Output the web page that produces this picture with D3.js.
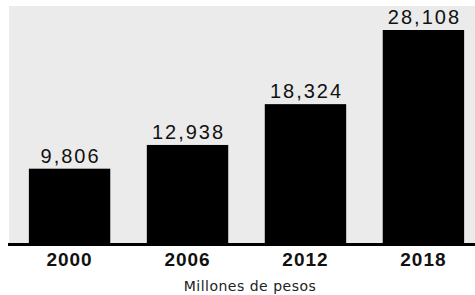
<!DOCTYPE html>
<html>
<head>
<meta charset="utf-8">
<script src="https://cdn.jsdelivr.net/npm/d3@7"></script>
<style>
  body { margin: 0; background: #fff; }
  svg { display: block; }
</style>
</head>
<body>
<svg id="chart"></svg>
<script>
// data
var years = ["2000", "2006", "2012", "2018"];
var values = [9806, 12938, 18324, 28108];
var unitLabel = "Millones de pesos";

var width = 475,
    height = 295,
    baseY = 243,
    topY = 30;

var svg = d3.select("#chart")
    .attr("width", width)
    .attr("height", height);

var x = d3.scaleBand()
    .domain(years)
    .range([10, 483])
    .paddingInner(0.31)
    .paddingOuter(0.16);

var y = d3.scaleLinear()
    .domain([0, d3.max(values)])
    .range([baseY, topY]);

var formatComma = d3.format(",");

// grey panel
svg.append("rect")
    .attr("x", 9)
    .attr("y", 6)
    .attr("width", width - 9)
    .attr("height", baseY - 6)
    .attr("fill", "#ebebeb");

var data = years.map(function(d, i) { return {year: d, value: values[i]}; });

svg.selectAll(".bar")
    .data(data)
    .enter()
    .append("rect")
      .attr("class", "bar")
      .attr("x", function(d) { return x(d.year); })
      .attr("y", function(d) { return y(d.value); })
      .attr("width", x.bandwidth())
      .attr("height", function(d) { return baseY - y(d.value); })
      .attr("fill", "#000");

// value labels
svg.selectAll(".val")
    .data(data)
    .enter()
    .append("text")
      .attr("class", "val")
      .attr("x", function(d) { return x(d.year) + x.bandwidth() / 2 + 1; })
      .attr("y", function(d) { return y(d.value) - 6; })
      .attr("text-anchor", "middle")
      .style("font-family", "'Liberation Sans', Arial, sans-serif")
      .style("font-size", "20px")
      .style("letter-spacing", "2px")
      .attr("fill", "#111")
      .text(function(d) { return formatComma(d.value); });

// baseline
svg.append("line")
    .attr("x1", 8)
    .attr("x2", width)
    .attr("y1", baseY + 1.5)
    .attr("y2", baseY + 1.5)
    .attr("stroke", "#000")
    .attr("stroke-width", 3);

// year labels
svg.selectAll(".yr")
    .data(years)
    .enter()
    .append("text")
      .attr("class", "yr")
      .attr("x", function(d) { return x(d) + x.bandwidth() / 2; })
      .attr("y", 266)
      .attr("text-anchor", "middle")
      .style("font-family", "'Liberation Sans', Arial, sans-serif")
      .style("font-size", "19px")
      .style("font-weight", "bold")
      .style("letter-spacing", "1px")
      .attr("fill", "#111")
      .text(function(d) { return d; });

svg.append("text")
    .attr("x", 250)
    .attr("y", 291)
    .attr("text-anchor", "middle")
    .style("font-family", "'DejaVu Sans', sans-serif")
    .style("font-size", "14px")
    .style("letter-spacing", "0.5px")
    .attr("fill", "#222")
    .text(unitLabel);
</script>
</body>
</html>
